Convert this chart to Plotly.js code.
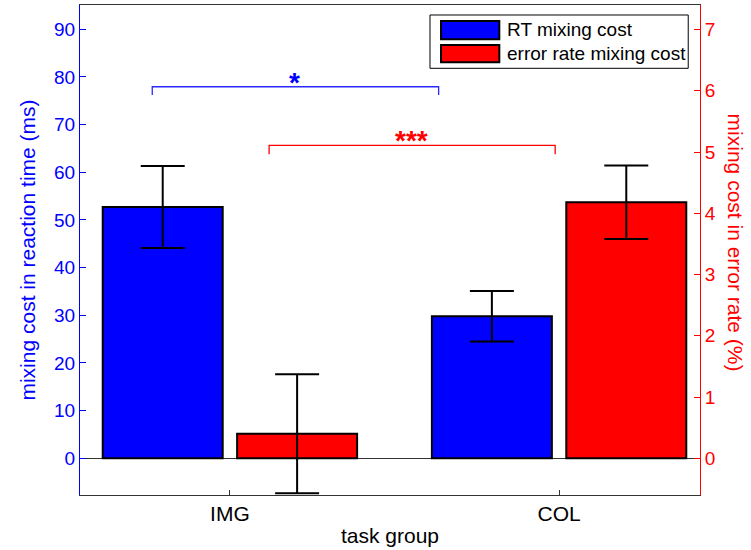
<!DOCTYPE html>
<html>
<head>
<meta charset="utf-8">
<script src="https://cdn.plot.ly/plotly-3.0.1.min.js"></script>
<style>html,body{margin:0;padding:0;background:#fff;}#chart{width:751px;height:550px;}</style>
</head>
<body>
<div id="chart"></div>
<script>
// ---- data ----
const groups = ['IMG', 'COL'];
const rtCost = [52.7, 29.8];        // ms (left axis)
const rtErr = [8.6, 5.3];
const errCost = [0.40, 4.18];       // % (right axis)
const errErr = [0.97, 0.60];
const seriesNames = ['RT mixing cost', 'error rate mixing cost'];
const leftTicks = [0, 10, 20, 30, 40, 50, 60, 70, 80, 90];
const rightTicks = [0, 1, 2, 3, 4, 5, 6, 7];
const sigLabels = ['*', '***'];

const FONT = 'Liberation Sans, Arial, Helvetica, sans-serif';
const BLUE = '#0000ff';
const RED = '#ff0000';

const traces = [
  {
    type: 'bar', name: seriesNames[0], x: groups, y: rtCost, yaxis: 'y',
    width: 0.3645, offset: -0.3865,
    marker: {color: BLUE, line: {color: '#000', width: 2}},
    error_y: {type: 'data', array: rtErr, visible: true, color: '#000', thickness: 2, width: 22},
    showlegend: false, hoverinfo: 'skip'
  },
  {
    type: 'bar', name: seriesNames[1], x: groups, y: errCost, yaxis: 'y2',
    width: 0.3645, offset: 0.0218,
    marker: {color: RED, line: {color: '#000', width: 2}},
    error_y: {type: 'data', array: errErr, visible: true, color: '#000', thickness: 2, width: 22},
    showlegend: false, hoverinfo: 'skip'
  }
];

const shapes = [
  // significance bracket (RT)
  {type: 'path', xref: 'x', yref: 'y', path: 'M -0.236,76.2 L -0.236,77.95 L 0.634,77.95 L 0.634,76.2',
   line: {color: '#2a2aff', width: 1.3}},
  // significance bracket (error rate)
  {type: 'path', xref: 'x', yref: 'y', path: 'M 0.119,63.8 L 0.119,65.66 L 0.988,65.66 L 0.988,63.8',
   line: {color: RED, width: 1.3}},
  // legend box
  {type: 'rect', xref: 'paper', yref: 'paper', x0: 0.5645, x1: 0.981, y0: 0.8708, y1: 0.9796,
   line: {color: '#000', width: 1}, fillcolor: '#fff'},
  {type: 'rect', xref: 'paper', yref: 'paper', x0: 0.5823, x1: 0.6763, y0: 0.930, y1: 0.9673,
   line: {color: '#000', width: 2}, fillcolor: BLUE},
  {type: 'rect', xref: 'paper', yref: 'paper', x0: 0.5823, x1: 0.6763, y0: 0.883, y1: 0.9184,
   line: {color: '#000', width: 2}, fillcolor: RED}
];

const annotations = [
  {xref: 'x', yref: 'y', x: 0.197, y: 78.9, text: '<b>' + sigLabels[0] + '</b>', showarrow: false,
   font: {family: FONT, size: 28, color: BLUE}, xanchor: 'center', yanchor: 'middle'},
  {xref: 'x', yref: 'y', x: 0.553, y: 66.7, text: '<b>' + sigLabels[1] + '</b>', showarrow: false,
   font: {family: FONT, size: 28, color: RED}, xanchor: 'center', yanchor: 'middle'},
  {xref: 'paper', yref: 'paper', x: 0.6855, y: 0.949, text: seriesNames[0], showarrow: false,
   font: {family: FONT, size: 19, color: '#000'}, xanchor: 'left', yanchor: 'middle'},
  {xref: 'paper', yref: 'paper', x: 0.6855, y: 0.9014, text: seriesNames[1], showarrow: false,
   font: {family: FONT, size: 19, color: '#000'}, xanchor: 'left', yanchor: 'middle'},
  {xref: 'paper', yref: 'paper', x: 1.0565, y: 0.515, text: 'mixing cost in error rate (%)', showarrow: false,
   textangle: 90, font: {family: FONT, size: 21, color: RED}, xanchor: 'center', yanchor: 'middle'}
];

const layout = {
  width: 751, height: 550,
  margin: {l: 80, r: 51, t: 5, b: 55, pad: 0},
  paper_bgcolor: '#fff', plot_bgcolor: '#fff',
  font: {family: FONT, size: 19, color: '#000'},
  barmode: 'overlay',
  showlegend: false,
  xaxis: {
    type: 'category', range: [-0.4555, 1.428],
    showline: true, linecolor: '#333', linewidth: 1, mirror: true,
    ticks: 'inside', ticklen: 5, tickcolor: '#333',
    tickfont: {family: FONT, size: 21, color: '#000'},
    showgrid: false, zeroline: false,
    title: {text: 'task group', font: {family: FONT, size: 21, color: '#000'}, standoff: 4}
  },
  yaxis: {
    range: [-7.7, 95.1], tickvals: leftTicks,
    showline: true, linecolor: BLUE, linewidth: 1,
    ticks: 'inside', ticklen: 6, tickcolor: BLUE,
    tickfont: {family: FONT, size: 19, color: BLUE},
    showgrid: false, zeroline: true, zerolinecolor: '#333', zerolinewidth: 1,
    title: {text: 'mixing cost in reaction time (ms)', font: {family: FONT, size: 21, color: BLUE}, standoff: 12}
  },
  yaxis2: {
    overlaying: 'y', side: 'right', range: [-0.6, 7.4], tickvals: rightTicks,
    showline: true, linecolor: RED, linewidth: 1,
    ticks: 'inside', ticklen: 6, tickcolor: RED,
    tickfont: {family: FONT, size: 19, color: RED},
    showgrid: false, zeroline: false
  },
  shapes: shapes,
  annotations: annotations
};

Plotly.newPlot('chart', traces, layout, {staticPlot: true, displayModeBar: false});
</script>
</body>
</html>
